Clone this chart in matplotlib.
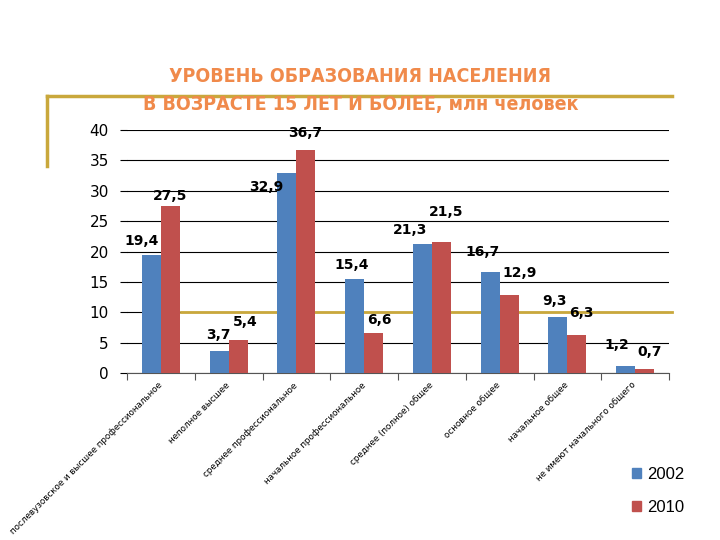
import matplotlib.pyplot as plt
from matplotlib.lines import Line2D
from matplotlib.patches import Patch
import numpy as np

# Data
categories = [
    "послевузовское и высшее профессиональное",
    "неполное высшее",
    "среднее профессиональное",
    "начальное профессиональное",
    "среднее (полное) общее",
    "основное общее",
    "начальное общее",
    "не имеют начального общего",
]
values_2002 = [19.4, 3.7, 32.9, 15.4, 21.3, 16.7, 9.3, 1.2]
values_2010 = [27.5, 5.4, 36.7, 6.6, 21.5, 12.9, 6.3, 0.7]
series_names = ["2002", "2010"]

# label offsets (pixels) from the bar top, as placed on the slide
dx_2002 = [-10, -1, -21, -3, -12, -8, -3, -9]
dy_2002 = [14, 16, -14, 14, 14, 20, 16, 21]
dx_2010 = [0, 7, -1, 6, 5, 11, 5, 5]
dy_2010 = [10, 18, 17, 13, 30, 22, 22, 17]

blue = "#4F81BD"
red = "#C0504D"
gold = "#C9A83C"
orange = "#F08A4B"

fig = plt.figure(figsize=(7.2, 5.4), dpi=100)
ax = fig.add_axes([127 / 720, 1 - 373 / 540, 542 / 720, 243 / 540])

x = np.arange(len(categories))
w = 0.28
ax.bar(x - w / 2, values_2002, w, color=blue, zorder=3, label=series_names[0])
ax.bar(x + w / 2, values_2010, w, color=red, zorder=3, label=series_names[1])

for i in range(len(categories)):
    ax.annotate(f"{values_2002[i]:.1f}".replace(".", ","), (x[i] - w / 2, values_2002[i]),
                xytext=(dx_2002[i], dy_2002[i]), textcoords="offset pixels",
                ha="center", va="center", fontsize=10, fontweight="bold", zorder=5)
    ax.annotate(f"{values_2010[i]:.1f}".replace(".", ","), (x[i] + w / 2, values_2010[i]),
                xytext=(dx_2010[i], dy_2010[i]), textcoords="offset pixels",
                ha="center", va="center", fontsize=10, fontweight="bold", zorder=5)

ax.set_xlim(-0.5, len(categories) - 0.5)
ax.set_ylim(0, 40)
ax.set_yticks(range(0, 41, 5))
ax.yaxis.grid(True, color="black", linewidth=0.8)
ax.set_axisbelow(True)
ax.tick_params(axis="y", length=5, width=0.8, pad=8, labelsize=11)

ax.set_xticks(x)
ax.set_xticklabels(categories, rotation=45, ha="right", rotation_mode="anchor", fontsize=6.3)
ax.tick_params(axis="x", which="major", length=0, pad=8)
ax.set_xticks(np.arange(-0.5, len(categories)), minor=True)
ax.tick_params(axis="x", which="minor", length=5, width=0.8, color="#555555")
for lbl in ax.get_xticklabels():
    lbl.set_va("center")

for s in ["left", "right", "top"]:
    ax.spines[s].set_visible(False)
ax.spines["bottom"].set_color("#555555")
ax.spines["bottom"].set_linewidth(0.8)

# slide decoration lines
ax.plot([0.0996, 1.0055], [10, 10], transform=ax.get_yaxis_transform(),
        color=gold, linewidth=2, clip_on=False, zorder=2)
fig.add_artist(Line2D([47 / 720, 672 / 720], [1 - 96 / 540, 1 - 96 / 540], color=gold, linewidth=2.5))
fig.add_artist(Line2D([47 / 720, 47 / 720], [1 - 96 / 540, 1 - 166 / 540], color=gold, linewidth=2.5))

# title
fig.text(360 / 720, 1 - 77 / 540, "УРОВЕНЬ ОБРАЗОВАНИЯ НАСЕЛЕНИЯ", ha="center", va="center",
         color=orange, fontsize=14, fontweight="bold", fontstretch="condensed")
fig.text(361 / 720, 1 - 104 / 540, "В ВОЗРАСТЕ 15 ЛЕТ И БОЛЕЕ, млн человек", ha="center", va="center",
         color=orange, fontsize=14, fontweight="bold", fontstretch="condensed")

# legend
handles = [Patch(color=blue), Patch(color=red)]
fig.legend(handles, series_names, loc="center left", bbox_to_anchor=(617 / 720, 1 - 491 / 540),
           frameon=False, handlelength=0.55, handleheight=0.55, handletextpad=0.35,
           labelspacing=1.1, prop={"family": "Liberation Sans", "size": 12})

fig.savefig("out.png", dpi=100)
